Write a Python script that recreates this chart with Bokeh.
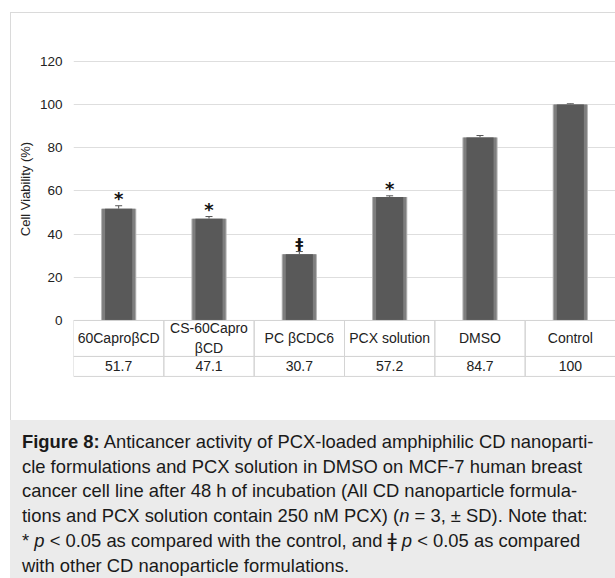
from bokeh.plotting import figure
from bokeh.models import (FactorRange, Range1d, FixedTicker, ColumnDataSource,
                          Div, Whisker, TeeHead)
from bokeh.layouts import column
from bokeh.embed import file_html
from bokeh.resources import INLINE
from bokeh.core.properties import value

# ---- data ----
categories = ["60CaproβCD", "CS-60Capro βCD", "PC βCDC6", "PCX solution", "DMSO", "Control"]
table_labels = ["60CaproβCD", "CS-60Capro\nβCD", "PC βCDC6", "PCX solution", "DMSO", "Control"]
viability = [51.7, 47.1, 30.7, 57.2, 84.7, 100]
sd = [1.4, 1.0, 1.2, 0.5, 0.9, 0.3]
markers = ["*", "*", "ǂ", "*", "", ""]
y_ticks = [0, 20, 40, 60, 80, 100, 120]
y_label = "Cell Viability (%)"

FONT = "Liberation Sans"

upper = [v + s for v, s in zip(viability, sd)]
src = ColumnDataSource(dict(
    cat=categories,
    lab=table_labels,
    val=viability,
    upper=upper,
    txt=[f"{v:g}" for v in viability],
))
star_src = ColumnDataSource(dict(
    cat=[c for c, m in zip(categories, markers) if m == "*"],
    upper=[u for u, m in zip(upper, markers) if m == "*"],
    mk=[m for m in markers if m == "*"],
))
dag_src = ColumnDataSource(dict(
    cat=[c for c, m in zip(categories, markers) if m == "ǂ"],
    upper=[u for u, m in zip(upper, markers) if m == "ǂ"],
    mk=[m for m in markers if m == "ǂ"],
))

frame_css = ("linear-gradient(#dadada,#dadada) 10px 12px/1px 420px no-repeat, "
             "linear-gradient(#dadada,#dadada) 10px 12px/620px 1px no-repeat, #ffffff")

p = figure(width=615, height=420,
           x_range=FactorRange(*categories, range_padding=0),
           y_range=Range1d(-26.4, 148.1),
           output_backend="svg", toolbar_location=None,
           x_axis_location=None,
           min_border_left=73, min_border_right=0,
           min_border_top=0, min_border_bottom=43,
           styles={"background": frame_css})
p.outline_line_color = None
p.background_fill_alpha = 0
p.border_fill_alpha = 0
p.xgrid.visible = False
p.ygrid.ticker = FixedTicker(ticks=y_ticks)
p.ygrid.grid_line_color = "#dedede"
p.ygrid.grid_line_width = 1

ax = p.yaxis[0]
ax.ticker = FixedTicker(ticks=y_ticks)
ax.axis_line_color = None
ax.major_tick_line_color = None
ax.major_tick_out = 0
ax.major_tick_in = 0
ax.minor_tick_line_color = None
ax.major_label_standoff = 11
ax.major_label_text_font = FONT
ax.major_label_text_font_size = "13.5px"
ax.major_label_text_color = "#222222"
ax.axis_label = y_label
ax.axis_label_text_font = FONT
ax.axis_label_text_font_size = "13px"
ax.axis_label_text_font_style = "normal"
ax.axis_label_text_color = "#222222"
ax.axis_label_standoff = 4

# bars (layered to give the bevelled edge look)
p.vbar(x="cat", top="val", width=0.39, source=src,
       fill_color="#b4b4b4", line_color=None)
p.vbar(x="cat", top="val", width=0.367, source=src,
       fill_color="#7e7e7e", line_color=None)
p.vbar(x="cat", top="val", width=0.30, source=src,
       fill_color="#595959", line_color=None)

# error bars
p.add_layout(Whisker(base="cat", lower="val", upper="upper", source=src,
                     line_color="#555555", line_width=1,
                     upper_head=TeeHead(size=7, line_color="#555555", line_width=1),
                     lower_head=None))

# significance markers
p.text(x="cat", y="upper", text="mk", source=star_src, y_offset=-7,
       text_align="center", text_baseline="alphabetic",
       text_font=value("DejaVu Sans"), text_font_size="18px",
       text_font_style="bold", text_color="#111111")
p.text(x="cat", y="upper", text="mk", source=dag_src, y_offset=-9,
       text_align="center", text_baseline="alphabetic",
       text_font=value("DejaVu Sans"), text_font_size="14px",
       text_font_style="bold", text_color="#111111")

# data table below the axis
p.rect(x=categories, y=-8.33, width=1, height=16.66,
       fill_color=None, line_color="#d4d4d4", line_width=1)
p.rect(x=categories, y=-21.28, width=1, height=9.25,
       fill_color=None, line_color="#d4d4d4", line_width=1)
p.text(x="cat", y=-8.33, text="lab", source=src,
       text_align="center", text_baseline="middle",
       text_font=value(FONT), text_font_size="14px", text_color="#222222",
       text_line_height=1.25)
p.text(x="cat", y=-21.28, text="txt", source=src,
       text_align="center", text_baseline="middle",
       text_font=value(FONT), text_font_size="14px", text_color="#222222")

caption_html = (
    '<div style="width:605px;height:158px;box-sizing:border-box;background:#ebebeb;'
    'padding:10px 0 0 12px;font-family:\'Liberation Sans\',Arial,sans-serif;'
    'font-size:18.4px;line-height:24.6px;color:#1a1a1a;white-space:nowrap;">'
    '<b>Figure 8:</b> Anticancer activity of PCX-loaded amphiphilic CD nanoparti-<br>'
    'cle formulations and PCX solution in DMSO on MCF-7 human breast<br>'
    'cancer cell line after 48 h of incubation (All CD nanoparticle formula-<br>'
    'tions and PCX solution contain 250 nM PCX) (<i>n</i> = 3, ± SD). Note that:<br>'
    '* <i>p</i> &lt; 0.05 as compared with the control, and '
    '<span style="font-family:\'DejaVu Sans\';font-size:20px;">ǂ</span> '
    '<i>p</i> &lt; 0.05 as compared<br>'
    'with other CD nanoparticle formulations.</div>'
)
cap = Div(text=caption_html, width=605, height=158, margin=(0, 0, 0, 10))

layout = column(p, cap, spacing=0, margin=0)

with open("out.html", "w") as f:
    f.write(file_html(layout, INLINE))
